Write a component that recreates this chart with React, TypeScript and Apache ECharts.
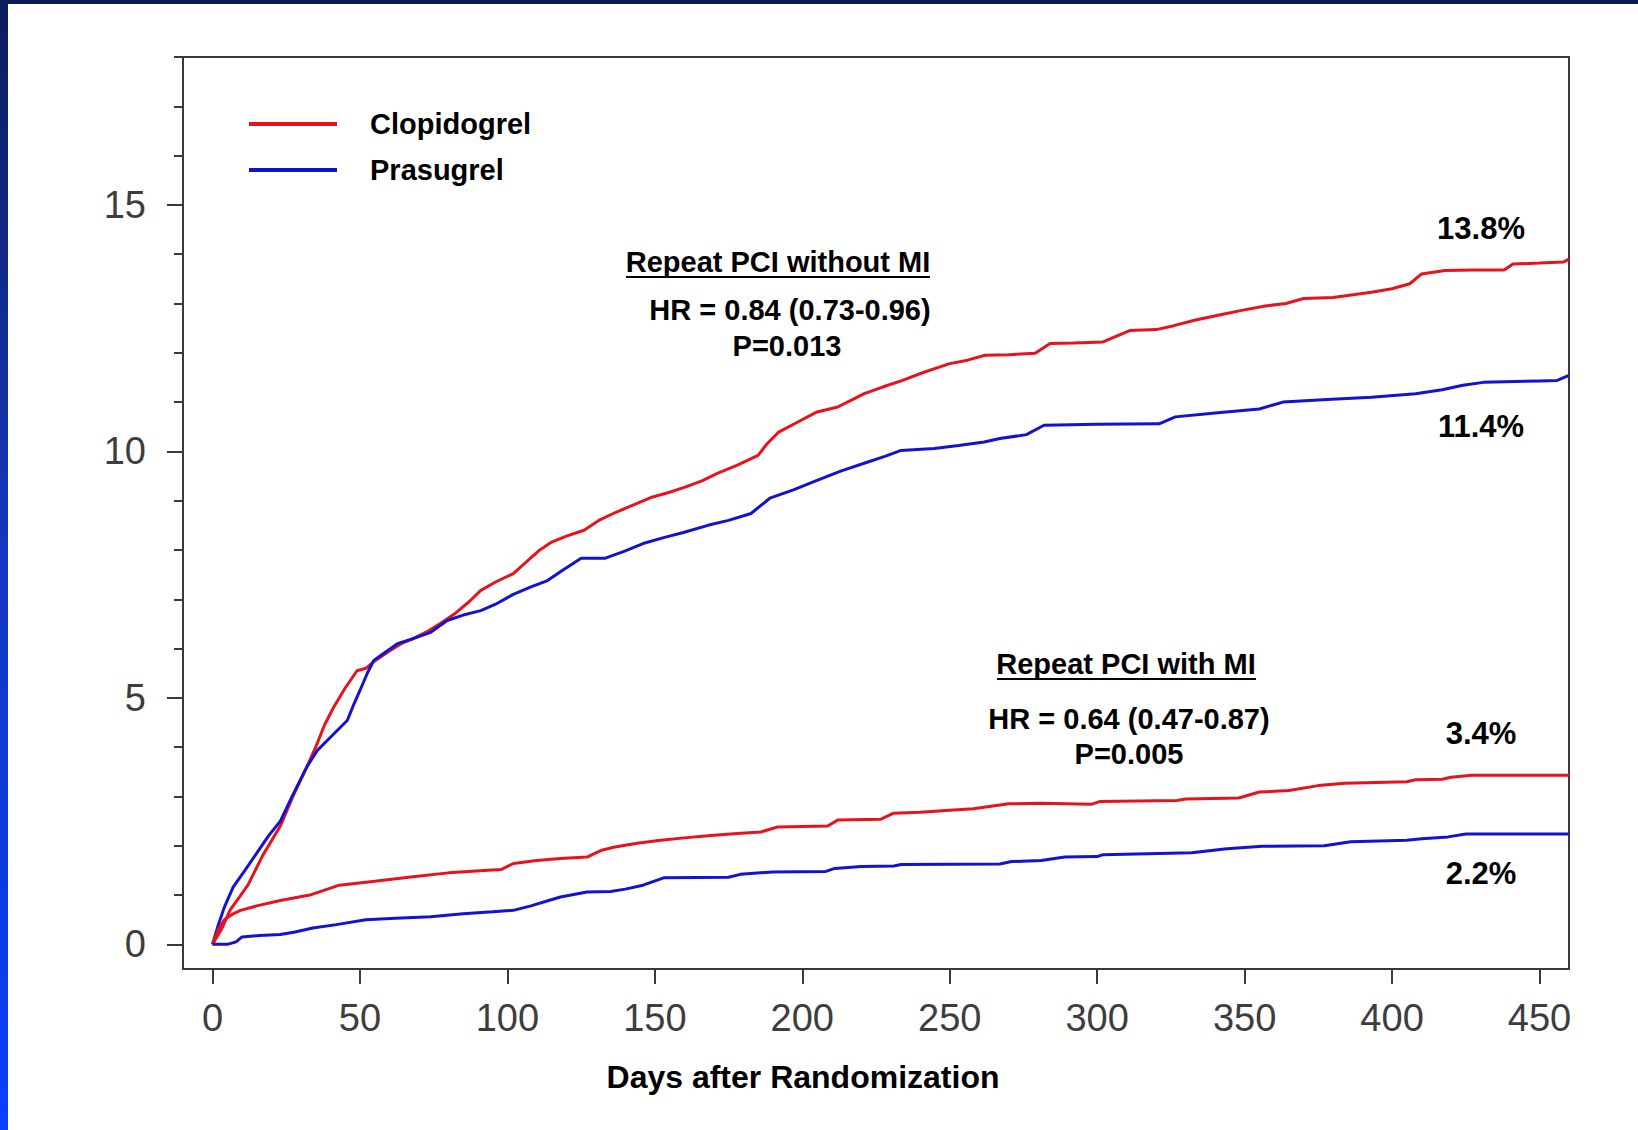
import React, { useEffect, useRef } from "react";
import * as echarts from "echarts";

const FONT = '"Liberation Sans", Arial, Helvetica, sans-serif';

const W = 1638;
const H = 1130;

const RED = "#e8121c";
const BLUE = "#1212d2";

// Axis ticks and labels
const xTickValues = [0, 50, 100, 150, 200, 250, 300, 350, 400, 450];
const yLabelValues = [0, 5, 10, 15];
const yMinorTickValues = [0, 1, 2, 3, 4, 5, 6, 7, 8, 9, 10, 11, 12, 13, 14, 15, 16, 17, 18];

const xAxisTitle = "Days after Randomization";
const legendNames = ["Clopidogrel", "Prasugrel"];

// Cumulative event rate (%) by day — repeat PCI without MI
const clopidogrelNoMI: [number, number][] = [
  [0, 0], [3, 0.3], [6, 0.7], [9, 0.95], [12, 1.2], [17, 1.8], [23, 2.4], [28, 3.1],
  [32, 3.6], [35, 4.0], [38, 4.45], [41, 4.8], [45, 5.2], [49, 5.55], [52, 5.6], [55, 5.75],
  [60, 5.95], [64, 6.1], [68, 6.2], [73, 6.35], [77, 6.5], [82, 6.7], [87, 6.95], [91, 7.18],
  [96, 7.35], [102, 7.52], [107, 7.79], [111, 8.0], [115, 8.16], [120, 8.28], [126, 8.4],
  [131, 8.6], [137, 8.77], [143, 8.92], [149, 9.07], [155, 9.17], [160, 9.27], [166, 9.4],
  [171, 9.55], [178, 9.72], [185, 9.92], [188, 10.15], [192, 10.39], [198, 10.58], [205, 10.8],
  [212, 10.9], [217, 11.05], [221, 11.17], [227, 11.3], [234, 11.44], [241, 11.6], [250, 11.78],
  [256, 11.85], [262, 11.95], [270, 11.96], [279, 11.99], [284, 12.19], [292, 12.2], [302, 12.22],
  [307, 12.35], [311, 12.45], [320, 12.47], [326, 12.55], [333, 12.66], [341, 12.76], [349, 12.86],
  [357, 12.95], [364, 13.0], [370, 13.1], [380, 13.12], [393, 13.23], [400, 13.3], [406, 13.4],
  [410, 13.6], [418, 13.67], [428, 13.68], [438, 13.68], [441, 13.8], [450, 13.82], [458, 13.84],
  [460, 13.9],
];

const prasugrelNoMI: [number, number][] = [
  [0, 0], [2, 0.4], [4, 0.75], [7, 1.16], [11, 1.5], [15, 1.85], [19, 2.2], [23, 2.5], [27, 3.0],
  [32, 3.6], [35.5, 3.93], [40, 4.2], [45.7, 4.54], [48, 4.88], [50, 5.15], [52.5, 5.5],
  [54.7, 5.76], [58, 5.9], [62.7, 6.1], [68, 6.2], [74, 6.33], [79.6, 6.57], [85, 6.68],
  [91, 6.77], [96, 6.9], [102, 7.1], [108, 7.25], [113.6, 7.38], [119, 7.6], [125, 7.83],
  [133, 7.83], [140, 7.98], [146, 8.13], [153, 8.25], [160, 8.36], [168, 8.5], [175, 8.6],
  [182.6, 8.74], [189, 9.05], [197, 9.22], [205, 9.41], [213, 9.6], [222, 9.78], [228, 9.9],
  [233.5, 10.02], [244.7, 10.06], [253, 10.12], [261.7, 10.19], [267, 10.26], [276, 10.34],
  [282, 10.53], [300, 10.55], [321, 10.56], [326.5, 10.7], [340, 10.78], [355, 10.86], [363, 11.0],
  [378, 11.05], [393, 11.1], [408, 11.17], [417, 11.25], [424, 11.34], [431, 11.4], [450, 11.43],
  [456, 11.44], [460, 11.54],
];

// Cumulative event rate (%) by day — repeat PCI with MI
const clopidogrelMI: [number, number][] = [
  [0, 0], [2, 0.3], [4, 0.5], [7, 0.62], [9.5, 0.69], [15, 0.78], [23, 0.89], [33, 1.0],
  [43, 1.2], [55, 1.28], [68, 1.37], [80, 1.45], [92, 1.5], [98, 1.52], [102, 1.64], [110, 1.7],
  [118, 1.74], [127, 1.77], [132, 1.91], [136, 1.97], [144, 2.05], [152, 2.11], [160, 2.16],
  [169, 2.21], [178, 2.25], [186, 2.28], [191.6, 2.38], [208.6, 2.4], [212, 2.52], [226.7, 2.54],
  [231, 2.66], [240, 2.68], [250, 2.72], [258, 2.75], [264, 2.8], [270, 2.85], [281, 2.86],
  [298, 2.84], [301, 2.9], [327, 2.92], [330, 2.95], [348, 2.97], [355, 3.09], [365, 3.12],
  [375, 3.22], [384, 3.27], [405, 3.3], [408, 3.34], [417, 3.35], [420, 3.39], [427, 3.43],
  [460, 3.43],
];

const prasugrelMI: [number, number][] = [
  [0, 0], [5, 0], [8, 0.05], [10, 0.15], [16, 0.18], [23, 0.2], [28, 0.25], [34, 0.33],
  [42, 0.4], [52, 0.5], [62, 0.53], [74, 0.56], [85, 0.62], [95, 0.66], [102, 0.69], [108, 0.78],
  [114, 0.89], [118, 0.96], [127, 1.06], [135, 1.07], [140, 1.12], [146, 1.2], [153, 1.35],
  [175, 1.36], [179, 1.42], [190, 1.47], [208, 1.48], [211, 1.54], [220, 1.58], [231, 1.59],
  [233.5, 1.62], [267, 1.63], [271, 1.68], [281, 1.7], [289, 1.77], [300, 1.78], [302, 1.82],
  [332, 1.86], [344, 1.94], [356, 1.99], [377, 2.0], [386, 2.08], [405, 2.11], [410, 2.14],
  [419, 2.18], [425, 2.24], [460, 2.24],
];

const noMITitle = "Repeat PCI without MI";
const noMIStats = ["HR = 0.84 (0.73-0.96)", "P=0.013"];
const miTitle = "Repeat PCI with MI";
const miStats = ["HR = 0.64 (0.47-0.87)", "P=0.005"];

const LABEL_DAY = 450;

function valueAtDay(points: [number, number][], day: number): number {
  let v = points[0][1];
  for (const [d, y] of points) if (d <= day) v = y;
  return v;
}
const pct = (v: number) => `${v.toFixed(1)}%`;

function boldText(text: string, x: number, y: number, size = 29) {
  return {
    type: "text",
    x,
    y,
    z: 10,
    style: {
      text,
      fill: "#000",
      fontSize: size,
      fontWeight: "bold",
      fontFamily: FONT,
      align: "center",
      verticalAlign: "middle",
      textAlign: "center",
      textVerticalAlign: "middle",
    },
  };
}

function underline(x1: number, x2: number, y: number) {
  return {
    type: "line",
    z: 10,
    shape: { x1, y1: y, x2, y2: y },
    style: { stroke: "#000", lineWidth: 2 },
  };
}

function lineSeries(name: string, data: [number, number][], color: string) {
  return {
    type: "line",
    name,
    data,
    showSymbol: false,
    symbol: "none",
    smooth: false,
    color,
    lineStyle: { color, width: 3 },
    emphasis: { disabled: true },
  };
}

export default function App() {
  const ref = useRef<HTMLDivElement>(null);

  useEffect(() => {
    document.body.style.margin = "0";
    if (!ref.current) return;
    const chart = echarts.init(ref.current, undefined, { renderer: "svg" });

    const tickLabelStyle = {
      fontFamily: FONT,
      fontSize: 38,
      color: "#3d3d3d",
    };

    chart.setOption({
      animation: false,
      backgroundColor: "#ffffff",
      grid: {
        left: 183,
        right: W - 1569,
        top: 57,
        bottom: H - 969,
        show: true,
        borderColor: "#3a3a3a",
        borderWidth: 2,
        backgroundColor: "transparent",
      },
      legend: {
        orient: "vertical",
        left: 244,
        top: 104,
        icon: "rect",
        itemWidth: 88,
        itemHeight: 4,
        itemGap: 16,
        data: legendNames,
        selectedMode: false,
        textStyle: {
          fontFamily: FONT,
          fontSize: 29,
          fontWeight: "bold",
          color: "#000",
          lineHeight: 30,
          padding: [0, 0, 0, 28],
        },
      },
      xAxis: {
        type: "value",
        min: -10,
        max: 460,
        splitLine: { show: false },
        axisLine: { show: true, onZero: false, lineStyle: { color: "#3a3a3a", width: 2 } },
        axisTick: {
          show: true,
          customValues: xTickValues,
          length: 15,
          lineStyle: { color: "#3a3a3a", width: 2 },
        },
        axisLabel: {
          customValues: xTickValues,
          margin: 30,
          ...tickLabelStyle,
        },
      },
      yAxis: [
        {
          type: "value",
          min: -0.5,
          max: 18,
          splitLine: { show: false },
          axisLine: { show: true, onZero: false, lineStyle: { color: "#3a3a3a", width: 2 } },
          axisTick: {
            show: true,
            customValues: yLabelValues,
            length: 16,
            lineStyle: { color: "#3a3a3a", width: 2 },
          },
          axisLabel: {
            customValues: yLabelValues,
            margin: 37,
            ...tickLabelStyle,
          },
        },
        {
          // unit ticks along the same left edge
          type: "value",
          position: "left",
          offset: 0,
          min: -0.5,
          max: 18,
          splitLine: { show: false },
          axisLine: { show: false, onZero: false },
          axisTick: {
            show: true,
            customValues: yMinorTickValues,
            length: 9,
            lineStyle: { color: "#3a3a3a", width: 2 },
          },
          axisLabel: { show: false },
        },
      ],
      series: [
        lineSeries(legendNames[0], clopidogrelNoMI, RED),
        lineSeries(legendNames[1], prasugrelNoMI, BLUE),
        lineSeries(legendNames[0], clopidogrelMI, RED),
        lineSeries(legendNames[1], prasugrelMI, BLUE),
      ],
      graphic: [
        // slide frame: dark band along the top, blue gradient band down the left side
        {
          type: "rect",
          z: 20,
          shape: { x: 0, y: 0, width: W, height: 4 },
          style: { fill: "#0b1a58" },
        },
        {
          type: "rect",
          z: 20,
          shape: { x: 0, y: 0, width: 8, height: H },
          style: {
            fill: new echarts.graphic.LinearGradient(0, 0, 0, 1, [
              { offset: 0, color: "#0c1c5a" },
              { offset: 0.45, color: "#1536b8" },
              { offset: 1, color: "#0a3ffc" },
            ]),
          },
        },
        boldText(xAxisTitle, 803, 1077, 32),
        boldText(noMITitle, 778, 262),
        underline(626, 930, 277),
        boldText(noMIStats[0], 790, 310),
        boldText(noMIStats[1], 787, 346),
        boldText(miTitle, 1126, 664),
        underline(997, 1256, 679),
        boldText(miStats[0], 1129, 719),
        boldText(miStats[1], 1129, 754),
        boldText(pct(valueAtDay(clopidogrelNoMI, LABEL_DAY)), 1481, 228, 31),
        boldText(pct(valueAtDay(prasugrelNoMI, LABEL_DAY)), 1481, 426, 31),
        boldText(pct(valueAtDay(clopidogrelMI, LABEL_DAY)), 1481, 733, 31),
        boldText(pct(valueAtDay(prasugrelMI, LABEL_DAY)), 1481, 873, 31),
      ],
    });

    return () => chart.dispose();
  }, []);

  return <div ref={ref} style={{ width: W, height: H }} />;
}
